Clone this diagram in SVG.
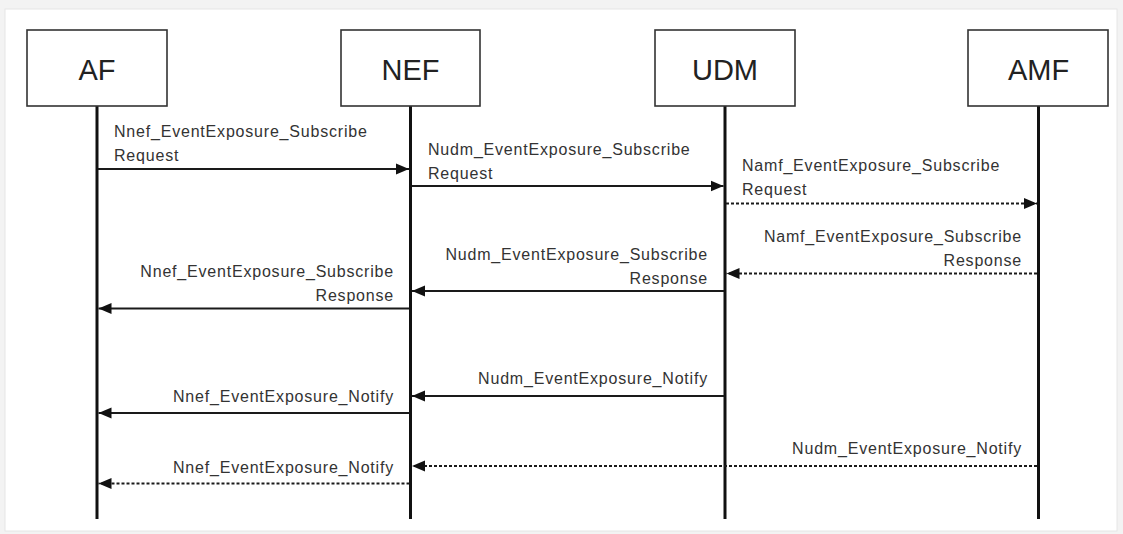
<svg xmlns="http://www.w3.org/2000/svg" width="1123" height="534" viewBox="0 0 1123 534">
  <style>
    .box { fill: #ffffff; stroke: #333333; stroke-width: 1.6; }
    .title { font-family: "Liberation Sans", Arial, sans-serif; font-size: 29px; fill: #222222; text-anchor: middle; }
    .life { stroke: #111111; stroke-width: 3; }
    .msg { stroke: #1a1a1a; stroke-width: 2; fill: none; marker-end: url(#head); }
    .dot { stroke-dasharray: 3 2; }
    .lbl { font-family: "Liberation Sans", Arial, sans-serif; font-size: 16px; letter-spacing: 0.8px; fill: #333333; }
    .end { text-anchor: end; }
  </style>
  <defs>
    <marker id="head" markerUnits="userSpaceOnUse" markerWidth="14" markerHeight="12" refX="13" refY="6" orient="auto">
      <path d="M0,0.5 L13,6 L0,11.5 Z" fill="#111111"/>
    </marker>
  </defs>

  <!-- page -->
  <rect x="0" y="0" width="1123" height="534" fill="#f3f3f3"/>
  <rect x="5" y="9" width="1112" height="522" fill="#ffffff" stroke="#e6e6e6" stroke-width="1"/>

  <!-- participants with their lifelines -->
  <g id="af">
    <line class="life" x1="97" y1="106" x2="97" y2="519"/>
    <rect class="box" x="27" y="30" width="140" height="76"/>
    <text class="title" x="97" y="80">AF</text>
  </g>
  <g id="nef">
    <line class="life" x1="410.5" y1="106" x2="410.5" y2="519"/>
    <rect class="box" x="341" y="30" width="139" height="76"/>
    <text class="title" x="410.5" y="80">NEF</text>
  </g>
  <g id="udm">
    <line class="life" x1="725" y1="106" x2="725" y2="519"/>
    <rect class="box" x="655" y="30" width="140" height="76"/>
    <text class="title" x="725" y="80">UDM</text>
  </g>
  <g id="amf">
    <line class="life" x1="1038.5" y1="106" x2="1038.5" y2="519"/>
    <rect class="box" x="968" y="30" width="140" height="76"/>
    <text class="title" x="1038.5" y="80">AMF</text>
  </g>

  <!-- messages -->
  <g id="connectors">
    <line class="msg" x1="98" y1="169" x2="409" y2="169"/>
    <line class="msg" x1="412" y1="186" x2="723.5" y2="186"/>
    <line class="msg dot" x1="726" y1="203.5" x2="1037" y2="203.5"/>
    <line class="msg dot" x1="1037" y1="273.5" x2="726.5" y2="273.5"/>
    <line class="msg" x1="724" y1="291" x2="412" y2="291"/>
    <line class="msg" x1="409.5" y1="308.5" x2="98.5" y2="308.5"/>
    <line class="msg" x1="724" y1="396" x2="412" y2="396"/>
    <line class="msg" x1="409.5" y1="413" x2="98.5" y2="413"/>
    <line class="msg dot" x1="1037" y1="466" x2="412" y2="466"/>
    <line class="msg dot" x1="409.5" y1="483.5" x2="98.5" y2="483.5"/>
  </g>

  <!-- message labels -->
  <g id="labels">
    <text class="lbl" x="114" y="137">Nnef_EventExposure_Subscribe</text>
    <text class="lbl" x="114" y="161">Request</text>

    <text class="lbl" x="428" y="155">Nudm_EventExposure_Subscribe</text>
    <text class="lbl" x="428" y="178.5">Request</text>

    <text class="lbl" x="742" y="171">Namf_EventExposure_Subscribe</text>
    <text class="lbl" x="742" y="195">Request</text>

    <text class="lbl end" x="1022" y="242">Namf_EventExposure_Subscribe</text>
    <text class="lbl end" x="1022" y="265.5">Response</text>

    <text class="lbl end" x="708" y="260">Nudm_EventExposure_Subscribe</text>
    <text class="lbl end" x="708" y="283.5">Response</text>

    <text class="lbl end" x="394" y="277">Nnef_EventExposure_Subscribe</text>
    <text class="lbl end" x="394" y="300.5">Response</text>

    <text class="lbl end" x="708" y="384">Nudm_EventExposure_Notify</text>
    <text class="lbl end" x="394" y="402">Nnef_EventExposure_Notify</text>
    <text class="lbl end" x="1022" y="454">Nudm_EventExposure_Notify</text>
    <text class="lbl end" x="394" y="473">Nnef_EventExposure_Notify</text>
  </g>
</svg>
